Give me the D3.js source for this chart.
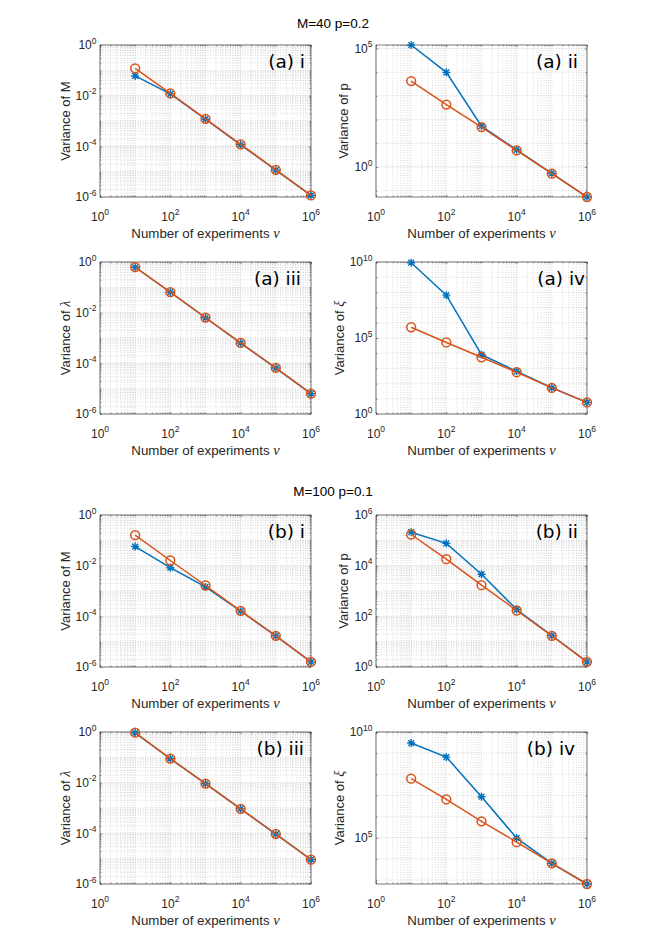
<!DOCTYPE html>
<html><head><meta charset="utf-8">
<script src="https://cdn.jsdelivr.net/npm/d3@7"></script>
<style>body{margin:0;background:#fff}</style>
</head><body>
<svg id="fig" width="665" height="940"></svg>
<script>
// ---------------- data ----------------
const nu = [1e1, 1e2, 1e3, 1e4, 1e5, 1e6];
const xTicks = [1e0, 1e2, 1e4, 1e6];
const titles = ["M=40 p=0.2", "M=100 p=0.1"];
const panelLabels = ["(a) i", "(a) ii", "(a) iii", "(a) iv", "(b) i", "(b) ii", "(b) iii", "(b) iv"];
const yVars = ["M", "p", "λ", "ξ", "M", "p", "λ", "ξ"];
const xLabelText = "Number of experiments ";
const xVar = "ν";

// M=40 p=0.2
const a1Star = [0.06, 0.0118, 0.00118, 1.15e-4, 1.15e-5, 1.15e-6];
const a1Circ = [0.12, 0.0122, 0.00122, 1.2e-4, 1.18e-5, 1.15e-6];
const a2Star = [1.4e5, 9.8e3, 53, 5.3, 0.53, 0.054];
const a2Circ = [4.2e3, 430, 48, 5, 0.52, 0.054];
const a3Star = [0.62, 0.064, 0.0063, 6.3e-4, 6.5e-5, 6.4e-6];
const a3Circ = [0.63, 0.065, 0.0064, 6.4e-4, 6.6e-5, 6.4e-6];
const a4Star = [9e9, 6.6e7, 8e3, 640, 53, 5.8];
const a4Circ = [5.1e5, 5.1e4, 5.4e3, 560, 52, 5.8];
// M=100 p=0.1
const b1Star = [0.057, 0.0083, 0.00145, 1.6e-4, 1.7e-5, 1.6e-6];
const b1Circ = [0.16, 0.016, 0.00165, 1.65e-4, 1.7e-5, 1.6e-6];
const b2Star = [2.1e5, 7.6e4, 4.6e3, 186, 17.5, 1.6];
const b2Circ = [1.7e5, 1.8e4, 1.7e3, 170, 17, 1.6];
const b3Star = [0.93, 0.088, 0.0091, 9.2e-4, 9.3e-5, 9.1e-6];
const b3Circ = [0.94, 0.089, 0.0092, 9.3e-4, 9.4e-5, 9.1e-6];
const b4Star = [3e9, 6.5e8, 8.7e6, 9.6e4, 6.2e3, 650];
const b4Circ = [6.2e7, 6.5e6, 6e5, 6.2e4, 6.2e3, 650];

const starSeries = [a1Star, a2Star, a3Star, a4Star, b1Star, b2Star, b3Star, b4Star];
const circSeries = [a1Circ, a2Circ, a3Circ, a4Circ, b1Circ, b2Circ, b3Circ, b4Circ];
const yLims = [[1e-6, 1], [0.054, 1.4e5], [1e-6, 1], [1, 1e10],
               [1e-6, 1], [1, 1e6], [1e-6, 1], [650, 1e10]];
const yTickSets = [[1e-6, 1e-4, 1e-2, 1e0], [1e0, 1e5], [1e-6, 1e-4, 1e-2, 1e0], [1e0, 1e5, 1e10],
                   [1e-6, 1e-4, 1e-2, 1e0], [1e0, 1e2, 1e4, 1e6], [1e-6, 1e-4, 1e-2, 1e0], [1e5, 1e10]];

// ---------------- layout ----------------
const colX = [100, 376];
const rowY = [45, 262, 515, 732];
const W = 211, H = 152;
const titleY = [27.5, 496];
const labelRightInset = [6, 9, 10, 2, 6, 9, 7, 12];
const BLUE = "#0072BD", ORANGE = "#D95319";
const sans = "'Liberation Sans', Arial, Helvetica, sans-serif";

const svg = d3.select("#fig");

titles.forEach((t, i) => {
  svg.append("text").attr("x", 333).attr("y", titleY[i])
    .attr("text-anchor", "middle").attr("font-family", sans).attr("font-size", 13.5)
    .attr("fill", "#000").text(t);
});

function expOf(v) { return Math.round(Math.log10(v)); }

function minorVals(lo, hi, majors, perDecadeMinor) {
  const out = [];
  const e0 = Math.floor(Math.log10(lo)) - 1, e1 = Math.ceil(Math.log10(hi));
  for (let e = e0; e <= e1; e++) {
    const base = Math.pow(10, e);
    const ks = perDecadeMinor ? [1, 2, 3, 4, 5, 6, 7, 8, 9] : [1];
    ks.forEach(k => {
      const v = k * base;
      if (v >= lo * 0.9999 && v <= hi * 1.0001 && !majors.some(m => Math.abs(Math.log10(m) - Math.log10(v)) < 1e-6)) out.push(v);
    });
  }
  return out;
}

for (let p = 0; p < 8; p++) {
  const col = p % 2, row = Math.floor(p / 2);
  const left = colX[col], top = rowY[row];
  const g = svg.append("g").attr("transform", `translate(${left},${top})`);
  const x = d3.scaleLog().domain([1, 1e6]).range([0, W]);
  const y = d3.scaleLog().domain(yLims[p]).range([H, 0]);
  const yt = yTickSets[p];
  const tickStep = Math.log10(yt[1]) - Math.log10(yt[0]);
  const yMinor = minorVals(yLims[p][0], yLims[p][1], yt, tickStep <= 2);
  const xMinor = minorVals(1, 1e6, xTicks, true);

  // minor grid
  const grid = g.append("g");
  grid.selectAll(".mx").data(xMinor).join("line")
    .attr("x1", d => x(d)).attr("x2", d => x(d)).attr("y1", 0).attr("y2", H)
    .attr("stroke", "#b8b8b8").attr("stroke-width", 0.5).attr("stroke-dasharray", "1,1.5");
  grid.selectAll(".my").data(yMinor).join("line")
    .attr("y1", d => y(d)).attr("y2", d => y(d)).attr("x1", 0).attr("x2", W)
    .attr("stroke", "#b8b8b8").attr("stroke-width", 0.5).attr("stroke-dasharray", "1,1.5");
  // major grid
  grid.selectAll(".gx").data(xTicks).join("line")
    .attr("x1", d => x(d)).attr("x2", d => x(d)).attr("y1", 0).attr("y2", H)
    .attr("stroke", "#dcdcdc").attr("stroke-width", 0.6);
  grid.selectAll(".gy").data(yt).join("line")
    .attr("y1", d => y(d)).attr("y2", d => y(d)).attr("x1", 0).attr("x2", W)
    .attr("stroke", "#dcdcdc").attr("stroke-width", 0.6);

  // axes via d3 (inward ticks, no labels); labels drawn separately
  const tickFmt = () => "";
  const axB = d3.axisBottom(x).tickValues(xTicks).tickSizeInner(-2.2).tickSizeOuter(0).tickFormat(tickFmt);
  const axT = d3.axisTop(x).tickValues(xTicks).tickSizeInner(-2.2).tickSizeOuter(0).tickFormat(tickFmt);
  const axL = d3.axisLeft(y).tickValues(yt).tickSizeInner(-2.2).tickSizeOuter(0).tickFormat(tickFmt);
  const axR = d3.axisRight(y).tickValues(yt).tickSizeInner(-2.2).tickSizeOuter(0).tickFormat(tickFmt);
  const axBm = d3.axisBottom(x).tickValues(xMinor).tickSizeInner(-1.3).tickSizeOuter(0).tickFormat(tickFmt);
  const axTm = d3.axisTop(x).tickValues(xMinor).tickSizeInner(-1.3).tickSizeOuter(0).tickFormat(tickFmt);
  const axLm = d3.axisLeft(y).tickValues(yMinor).tickSizeInner(-1.3).tickSizeOuter(0).tickFormat(tickFmt);
  const axRm = d3.axisRight(y).tickValues(yMinor).tickSizeInner(-1.3).tickSizeOuter(0).tickFormat(tickFmt);
  const axes = [[axB, `translate(0,${H})`], [axT, null], [axL, null], [axR, `translate(${W},0)`],
                [axBm, `translate(0,${H})`], [axTm, null], [axLm, null], [axRm, `translate(${W},0)`]];
  axes.forEach(([ax, tr]) => {
    const ag = g.append("g").call(ax);
    if (tr) ag.attr("transform", tr);
    ag.select(".domain").remove();
    ag.selectAll("line").attr("stroke", "#262626").attr("stroke-width", 0.5);
  });
  g.append("rect").attr("x", 0).attr("y", 0).attr("width", W).attr("height", H)
    .attr("fill", "none").attr("stroke", "#262626").attr("stroke-width", 0.6);

  // x tick labels
  xTicks.forEach(v => {
    const t = g.append("text").attr("x", x(v)).attr("y", H + 23.5)
      .attr("text-anchor", "middle").attr("font-family", sans).attr("font-size", 12).attr("fill", "#262626");
    t.append("tspan").text("10");
    t.append("tspan").attr("dy", -5.5).attr("font-size", 8.5).text(expOf(v));
  });
  // y tick labels
  const ytg = g.append("g");
  yt.forEach(v => {
    const t = ytg.append("text").attr("x", -3.5).attr("y", y(v) + 4.3)
      .attr("text-anchor", "end").attr("font-family", sans).attr("font-size", 12).attr("fill", "#262626");
    t.append("tspan").text("10");
    t.append("tspan").attr("dy", -5.5).attr("font-size", 8.5).text(expOf(v));
  });
  const bb = ytg.node().getBBox();

  // y label
  const italic = (yVars[p] === "λ" || yVars[p] === "ξ");
  const yl = g.append("text").attr("transform", `translate(${bb.x - 6},${H / 2}) rotate(-90)`)
    .attr("text-anchor", "middle").attr("font-family", sans).attr("font-size", 13).attr("fill", "#262626");
  yl.append("tspan").text("Variance of ");
  const vs = yl.append("tspan").text(yVars[p]);
  if (italic) vs.attr("font-family", "'Liberation Serif', 'Times New Roman', serif").attr("font-style", "italic").attr("font-size", 14);

  // x label
  const xl = g.append("text").attr("x", W / 2).attr("y", H + 41)
    .attr("text-anchor", "middle").attr("font-family", sans).attr("font-size", 13.3).attr("fill", "#262626");
  xl.append("tspan").text(xLabelText);
  xl.append("tspan").attr("font-family", "'Liberation Serif', 'Times New Roman', serif")
    .attr("font-style", "italic").attr("font-size", 14.5).text(xVar);

  // series
  const line = (arr) => d3.line().x((d, i) => x(nu[i])).y(d => y(d))(arr);
  g.append("path").attr("d", line(starSeries[p])).attr("fill", "none").attr("stroke", BLUE).attr("stroke-width", 1.5);
  const st = 4;
  const starPath = `M${-st},0H${st}M0,${-st}V${st}M${-st * 0.72},${-st * 0.72}L${st * 0.72},${st * 0.72}M${-st * 0.72},${st * 0.72}L${st * 0.72},${-st * 0.72}`;
  g.selectAll(".star").data(starSeries[p]).join("path")
    .attr("transform", (d, i) => `translate(${x(nu[i])},${y(d)})`)
    .attr("d", starPath).attr("fill", "none").attr("stroke", BLUE).attr("stroke-width", 1.4);
  g.append("path").attr("d", line(circSeries[p])).attr("fill", "none").attr("stroke", ORANGE).attr("stroke-width", 1.5);
  g.selectAll(".circ").data(circSeries[p]).join("circle")
    .attr("cx", (d, i) => x(nu[i])).attr("cy", d => y(d)).attr("r", 4.4)
    .attr("fill", "none").attr("stroke", ORANGE).attr("stroke-width", 1.5);

  // panel label
  g.append("text").attr("x", W - labelRightInset[p]).attr("y", 23)
    .attr("text-anchor", "end").attr("font-family", "'DejaVu Sans', sans-serif").attr("font-size", 18.5)
    .attr("fill", "#000").text(panelLabels[p]);
}
</script>
</body></html>
